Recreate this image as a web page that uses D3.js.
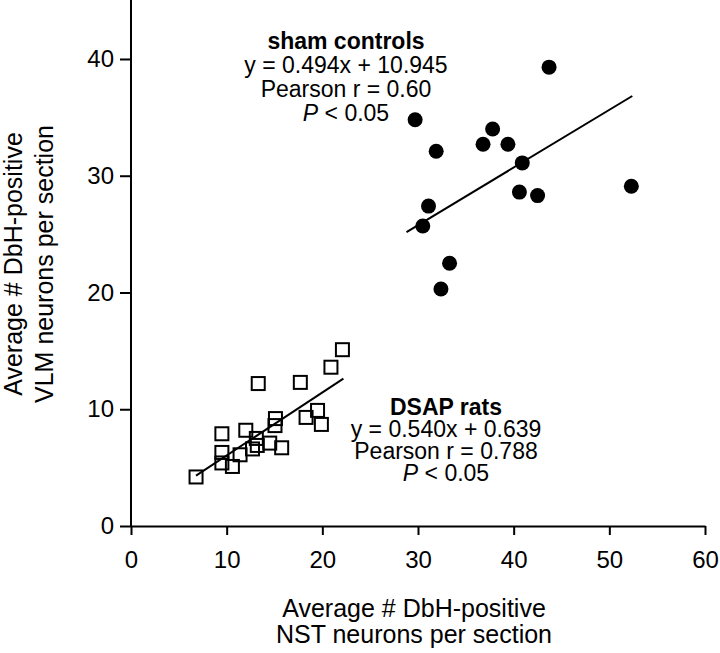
<!DOCTYPE html>
<html>
<head>
<meta charset="utf-8">
<script src="https://cdn.jsdelivr.net/npm/d3@7"></script>
<style>
  html, body { margin: 0; padding: 0; background: #fff; }
  svg text { font-family: "Liberation Sans", Arial, Helvetica, sans-serif; fill: #000; }
</style>
</head>
<body>
<svg id="chart" width="720" height="653"></svg>
<script>
// ---- data ----
const shamX = [43.7, 29.7, 37.8, 36.8, 39.4, 31.9, 40.9, 40.6, 42.5, 31.1, 30.5, 33.3, 32.4, 52.3];
const shamY = [39.3, 34.8, 34.0, 32.7, 32.7, 32.1, 31.1, 28.6, 28.3, 27.4, 25.7, 22.5, 20.3, 29.1];
const dsapX = [22.1, 20.9, 13.3, 17.7, 15.1, 15.05, 9.5, 12.0, 18.3, 19.5, 19.9, 13.1, 13.2, 14.5, 15.75, 12.7, 11.4, 9.5, 9.5, 10.6, 6.8];
const dsapY = [15.1, 13.6, 12.2, 12.3, 9.2, 8.6, 7.9, 8.2, 9.3, 9.9, 8.7, 7.5, 6.9, 7.1, 6.7, 6.6, 6.1, 6.3, 5.4, 5.1, 4.2];
const shamFit = { slope: 0.494, intercept: 10.945, xRange: [28.8, 52.4] };
const dsapFit = { slope: 0.540, intercept: 0.639, xRange: [6.8, 22.2] };
const xTicks = [0, 10, 20, 30, 40, 50, 60];
const yTicks = [0, 10, 20, 30, 40];
const shamText = ["sham controls", "y = 0.494x + 10.945", "Pearson r = 0.60", "P < 0.05"];
const dsapText = ["DSAP rats", "y = 0.540x + 0.639", "Pearson r = 0.788", "P < 0.05"];
const xLabel = ["Average # DbH-positive", "NST neurons per section"];
const yLabel = ["Average # DbH-positive", "VLM neurons per section"];

// ---- layout ----
const svg = d3.select("#chart");
const x = d3.scaleLinear().domain([0, 60]).range([131, 705]);
const y = d3.scaleLinear().domain([0, 45]).range([526, 0.6]);
const TICK_FS = 24, ANN_FS = 23, LAB_FS = 25;

// axes
const xAxis = svg.append("g").attr("transform", `translate(0,${y(0)})`)
  .call(d3.axisBottom(x).tickValues(xTicks).tickSize(9).tickSizeOuter(0).tickPadding(16));
const yAxis = svg.append("g").attr("transform", `translate(${x(0)},0)`)
  .call(d3.axisLeft(y).tickValues(yTicks).tickSize(11).tickSizeOuter(0).tickPadding(6));
[xAxis, yAxis].forEach(g => {
  g.select(".domain").attr("stroke", "#000").attr("stroke-width", 2);
  g.selectAll(".tick line").attr("stroke", "#000").attr("stroke-width", 2);
  g.selectAll(".tick text").attr("font-size", TICK_FS)
    .attr("font-family", '"Liberation Sans", Arial, sans-serif').attr("fill", "#000");
});
// extend y axis to top of the frame
yAxis.select(".domain").attr("d", `M0,${y(0)}V0`);

// regression lines
function fitLine(fit) {
  return fit.xRange.map(v => [x(v), y(fit.slope * v + fit.intercept)]);
}
const line = d3.line();
svg.append("path").attr("d", line(fitLine(shamFit))).attr("stroke", "#000").attr("stroke-width", 2).attr("fill", "none");
svg.append("path").attr("d", line(fitLine(dsapFit))).attr("stroke", "#000").attr("stroke-width", 2).attr("fill", "none");

// DSAP squares
const S = 13;
svg.append("g").selectAll("rect").data(dsapX.map((v, i) => [v, dsapY[i]])).join("rect")
  .attr("x", d => x(d[0]) - S / 2).attr("y", d => y(d[1]) - S / 2)
  .attr("width", S).attr("height", S)
  .attr("fill", "none").attr("stroke", "#000").attr("stroke-width", 2);

// sham circles
svg.append("g").selectAll("circle").data(shamX.map((v, i) => [v, shamY[i]])).join("circle")
  .attr("cx", d => x(d[0])).attr("cy", d => y(d[1])).attr("r", 7.5).attr("fill", "#000");

// annotations
function annot(lines, cx, baselines) {
  lines.forEach((t, i) => {
    const txt = svg.append("text").attr("x", cx).attr("y", baselines[i])
      .attr("text-anchor", "middle").attr("font-size", ANN_FS);
    if (i === 0) {
      txt.attr("font-weight", "bold").text(t);
    } else if (t.startsWith("P ")) {
      txt.append("tspan").attr("font-style", "italic").text("P");
      txt.append("tspan").text(t.slice(1));
    } else {
      txt.text(t);
    }
  });
}
annot(shamText, 346, [49, 72.5, 97, 120.5]);
annot(dsapText, 446, [415, 437, 459, 481]);

// axis titles
xLabel.forEach((t, i) => {
  svg.append("text").attr("x", 414).attr("y", [617, 643][i])
    .attr("text-anchor", "middle").attr("font-size", LAB_FS).text(t);
});
yLabel.forEach((t, i) => {
  svg.append("text").attr("transform", `translate(${[22, 53][i]},264) rotate(-90)`)
    .attr("text-anchor", "middle").attr("font-size", LAB_FS).text(t);
});
</script>
</body>
</html>
